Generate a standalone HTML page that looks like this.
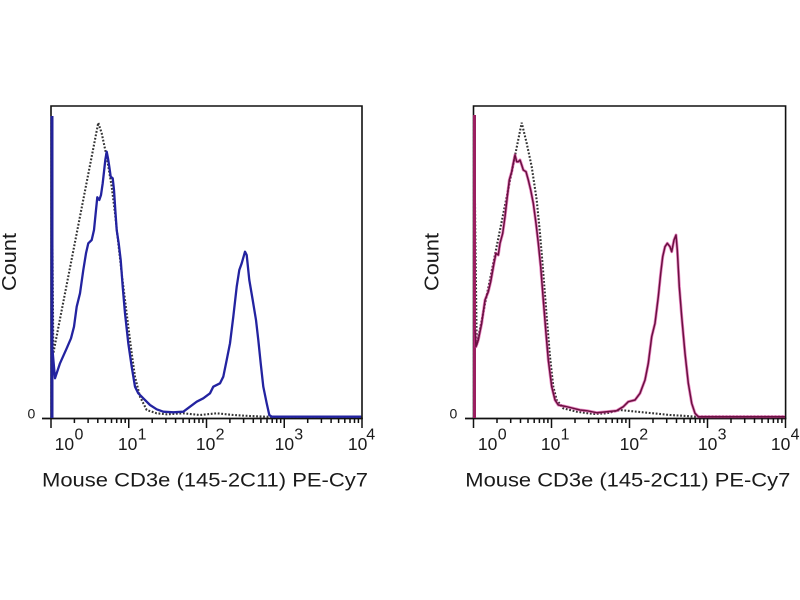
<!DOCTYPE html>
<html>
<head>
<meta charset="utf-8">
<style>
html,body{margin:0;padding:0;background:#fff;}
svg{display:block;}
text{font-family:"Liberation Sans",Arial,sans-serif;fill:#1a1a1a;}
</style>
</head>
<body>
<svg width="800" height="600" viewBox="0 0 800 600" xmlns="http://www.w3.org/2000/svg">
<rect width="800" height="600" fill="#fff"/>

<!-- ================= LEFT PLOT ================= -->
<polyline fill="none" stroke="#333" stroke-width="2.1" stroke-dasharray="1.8 1.7"
 points="51.5,418 51.5,120 53.3,353.3 98.3,122.7 101.7,133.3 106.7,156.7 111.7,186.7 115,213.3 118.3,243.3 121.7,273.3 125,300 128.3,326.7 131.7,353.3 135,376.7 140,396.7 146.7,410 156.7,413.3 166.7,414.3 183.3,413.3 200,415 216.7,413.3 233.3,415 250,416 266.7,416.7 362,416.7"/>
<polyline fill="none" stroke="#111" stroke-width="1.6" points="51,418.5 51,106 362,106 362,418.5"/>
<line x1="42" y1="418.5" x2="362.8" y2="418.5" stroke="#111" stroke-width="1.8"/>
<line x1="52" y1="116" x2="52" y2="418" stroke="#22229a" stroke-width="3"/>
<polyline fill="none" stroke="#2323a0" stroke-width="2.3" stroke-linejoin="round"
 points="52.5,350 55,378.3 60,363.3 66.7,348.3 71,338.3 74,326.7 76.7,306.7 80,293.3 83.3,270 86,253.3 88.3,243.3 91.7,240 94,230 96,210 97.3,197.3 99.3,200 101,195 102.7,183.3 104,171.7 105.3,160 106.7,151.7 108,158.3 109.3,166.7 110.7,176.7 112.7,178.3 114,190 115.3,210 116.7,230 118.7,243.3 120.7,260 122.7,286.7 125,313.3 128.3,343.3 131.7,366.7 135,386.7 138.3,393.3 143.3,398.3 150,405 156.7,409.3 163.3,411.7 173.3,412.3 183.3,411.7 190,406.7 196.7,401.7 203.3,398.3 210,393.3 213.3,386.7 220,383.3 223.3,376.7 226.7,360 230,343.3 233.3,316.7 236.7,286.7 239.3,270 241.7,263.3 245,251.7 246.7,255 249.3,280 252.7,300 256,320 258.3,340 260.7,363.3 263.3,386.7 266.7,403.3 269.3,415 271.7,416.7 361,416.7"/>
<path fill="none" stroke="#111" stroke-width="1.5" d="
M51,418 V428 M128.75,418 V428 M206.5,418 V428 M284.25,418 V428 M362,418 V428
M74.4,418 V423 M88.1,418 V423 M97.8,418 V423 M105.3,418 V423 M111.5,418 V423 M116.7,418 V423 M121.2,418 V423 M125.2,418 V423
M152.2,418 V423 M165.9,418 V423 M175.6,418 V423 M183.1,418 V423 M189.3,418 V423 M194.5,418 V423 M199,418 V423 M202.9,418 V423
M229.9,418 V423 M243.6,418 V423 M253.3,418 V423 M260.9,418 V423 M267,418 V423 M272.2,418 V423 M276.7,418 V423 M280.7,418 V423
M307.7,418 V423 M321.4,418 V423 M331.1,418 V423 M338.6,418 V423 M344.8,418 V423 M350,418 V423 M354.5,418 V423 M358.4,418 V423"/>
<text x="27.5" y="418.5" font-size="14">0</text>
<g font-size="17.5">
<text x="54.6" y="450">10</text>
<text x="117.9" y="450">10</text>
<text x="195.9" y="450">10</text>
<text x="274.6" y="450">10</text>
<text x="347.9" y="450">10</text>
</g>
<g font-size="16">
<text x="74.5" y="439.3">0</text>
<text x="137.6" y="439.3">1</text>
<text x="215.6" y="439.3">2</text>
<text x="294.3" y="439.3">3</text>
<text x="366.2" y="439.3">4</text>
</g>
<text x="16" y="262" font-size="20" text-anchor="middle" transform="rotate(-90 16 262)" textLength="58" lengthAdjust="spacingAndGlyphs">Count</text>
<text x="42" y="486.5" font-size="19.5" textLength="326" lengthAdjust="spacingAndGlyphs">Mouse CD3e (145-2C11) PE-Cy7</text>

<!-- ================= RIGHT PLOT ================= -->
<polyline fill="none" stroke="#333" stroke-width="2.1" stroke-dasharray="1.8 1.7"
 points="474,418 474,120 476.7,345 521.7,122.7 526.7,143.3 531.7,166.7 536.7,200 540,233.3 543.3,273.3 546.7,316.7 550,356.7 553.3,386.7 556.7,400 563.3,408.3 576.7,411.7 593.3,414 606.7,413.3 620,410 636.7,411.7 653.3,413.3 670,415 686.7,416 696.7,416.7 785.5,416.7"/>
<polyline fill="none" stroke="#111" stroke-width="1.6" points="473.5,418.5 473.5,106 785.6,106 785.6,418.5"/>
<line x1="465" y1="418.5" x2="786.4" y2="418.5" stroke="#111" stroke-width="1.8"/>
<line x1="474.5" y1="115" x2="474.5" y2="418" stroke="#9a1f60" stroke-width="3"/>
<polyline fill="none" stroke="#d8369a" stroke-opacity="0.6" stroke-width="3" stroke-linejoin="round"
 points="475,330 476,346.7 478.3,340 481.7,323.3 485,300 488.3,291.7 490.7,281.7 494,263.3 496,253.3 498.3,255 500,243.3 502.7,233.3 505,216.7 507.3,196.7 509.3,180 511.7,171.7 513.3,163.3 515,155 516.7,161.7 518.3,161.7 520,160 521.7,165 523.3,170 526,171.7 528.3,180 530.7,190 533.3,203.3 536,223.3 538.3,243.3 540.7,266.7 543.3,300 546,333.3 548.3,360 551.7,386.7 555,400 558.3,405 563.3,406 566.7,406.7 573.3,408.3 580,410 586.7,410.7 596.7,412.7 606.7,411.7 616.7,410.7 623.3,406.7 628.3,401.7 635,400 640,393.3 645,380 648.3,363.3 651.7,336.7 655,323.3 658.3,296.7 660.7,273.3 662.7,256.7 665,246.7 667.3,243.3 670,246.7 671.7,251.7 674,240 676,235 677.3,250 679.3,286.7 681.7,316.7 685,353.3 688.3,383.3 691.7,403.3 695,413.3 698.3,416.7 785,416.7"/>
<polyline fill="none" stroke="#6a1040" stroke-width="1.5" stroke-linejoin="round"
 points="475,330 476,346.7 478.3,340 481.7,323.3 485,300 488.3,291.7 490.7,281.7 494,263.3 496,253.3 498.3,255 500,243.3 502.7,233.3 505,216.7 507.3,196.7 509.3,180 511.7,171.7 513.3,163.3 515,155 516.7,161.7 518.3,161.7 520,160 521.7,165 523.3,170 526,171.7 528.3,180 530.7,190 533.3,203.3 536,223.3 538.3,243.3 540.7,266.7 543.3,300 546,333.3 548.3,360 551.7,386.7 555,400 558.3,405 563.3,406 566.7,406.7 573.3,408.3 580,410 586.7,410.7 596.7,412.7 606.7,411.7 616.7,410.7 623.3,406.7 628.3,401.7 635,400 640,393.3 645,380 648.3,363.3 651.7,336.7 655,323.3 658.3,296.7 660.7,273.3 662.7,256.7 665,246.7 667.3,243.3 670,246.7 671.7,251.7 674,240 676,235 677.3,250 679.3,286.7 681.7,316.7 685,353.3 688.3,383.3 691.7,403.3 695,413.3 698.3,416.7 785,416.7"/>
<path fill="none" stroke="#111" stroke-width="1.5" d="
M473.5,418 V428 M551.5,418 V428 M629.5,418 V428 M707.5,418 V428 M785.5,418 V428
M497,418 V423 M510.7,418 V423 M520.5,418 V423 M528,418 V423 M534.2,418 V423 M539.4,418 V423 M543.9,418 V423 M547.9,418 V423
M575,418 V423 M588.7,418 V423 M598.5,418 V423 M606,418 V423 M612.2,418 V423 M617.4,418 V423 M621.9,418 V423 M625.9,418 V423
M653,418 V423 M666.7,418 V423 M676.5,418 V423 M684,418 V423 M690.2,418 V423 M695.4,418 V423 M699.9,418 V423 M703.9,418 V423
M731,418 V423 M744.7,418 V423 M754.5,418 V423 M762,418 V423 M768.2,418 V423 M773.4,418 V423 M777.9,418 V423 M781.9,418 V423"/>
<text x="449.5" y="418.5" font-size="14">0</text>
<g font-size="17.5">
<text x="477.9" y="450">10</text>
<text x="540.9" y="450">10</text>
<text x="619.6" y="450">10</text>
<text x="697.9" y="450">10</text>
<text x="770.9" y="450">10</text>
</g>
<g font-size="16">
<text x="497.8" y="439.3">0</text>
<text x="560.6" y="439.3">1</text>
<text x="639.3" y="439.3">2</text>
<text x="717.6" y="439.3">3</text>
<text x="790.6" y="439.3">4</text>
</g>
<text x="438.5" y="262" font-size="20" text-anchor="middle" transform="rotate(-90 438.5 262)" textLength="58" lengthAdjust="spacingAndGlyphs">Count</text>
<text x="465.3" y="486.5" font-size="19.5" textLength="325" lengthAdjust="spacingAndGlyphs">Mouse CD3e (145-2C11) PE-Cy7</text>
</svg>
</body>
</html>
